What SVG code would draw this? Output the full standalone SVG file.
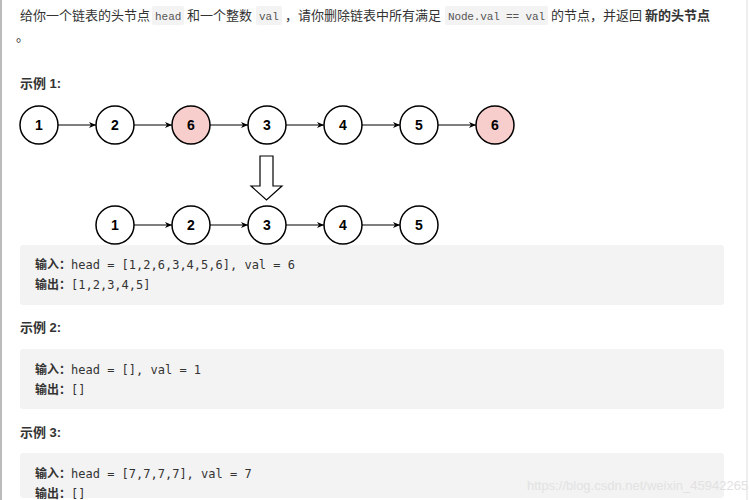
<svg xmlns="http://www.w3.org/2000/svg" width="749" height="500" viewBox="0 0 749 500">
<defs>
<style>
.t{font-family:"Liberation Sans","Noto Sans CJK SC",sans-serif;font-size:13px;fill:#333}
.b{font-weight:bold}
.m{font-family:"Liberation Mono","DejaVu Sans Mono",monospace;font-size:11px;fill:#555}
.c{font-family:"DejaVu Sans Mono","Noto Sans CJK SC",monospace;font-size:12px;fill:#333}
.cb{fill:#f3f3f3}
.n circle{fill:#fff;stroke:#000;stroke-width:1.5}
.n.r circle{fill:#f8cecc}
.n text{font-family:"Liberation Sans",sans-serif;font-size:14px;font-weight:bold;text-anchor:middle;fill:#000}
.e{stroke:#000;stroke-width:1.2;fill:none;marker-end:url(#a)}
</style>
<marker id="a" markerWidth="8" markerHeight="8" refX="7" refY="4" orient="auto" markerUnits="userSpaceOnUse"><path d="M0,1 L7,4 L0,7 L2,4 Z" fill="#000"/></marker>
</defs>
<rect width="749" height="500" fill="#fff"/>
<line x1="1" y1="0" x2="1" y2="500" stroke="#bbb" stroke-width="2"/>
<line x1="747" y1="0" x2="747" y2="500" stroke="#ddd" stroke-width="1"/>
<rect x="152" y="6" width="32" height="19" rx="2" class="cb"/>
<rect x="256" y="6" width="26" height="19" rx="2" class="cb"/>
<rect x="445" y="6" width="103" height="19" rx="2" class="cb"/>
<text class="t" x="20" y="20">给你一个链表的头节点</text>
<text class="m" x="155" y="20">head</text>
<text class="t" x="187" y="20">和一个整数</text>
<text class="m" x="259" y="20">val</text>
<text class="t" x="285" y="20">，请你删除链表中所有满足</text>
<text class="m" x="448" y="20" textLength="97">Node.val == val</text>
<text class="t" x="551" y="20">的节点，并返回</text>
<text class="t b" x="645" y="20">新的头节点</text>
<text class="t" x="16" y="41">。</text>
<text class="t b" x="20" y="88">示例 1:</text>
<g id="edges">
<line class="e" x1="58" y1="125" x2="96" y2="125"/>
<line class="e" x1="134" y1="125" x2="172" y2="125"/>
<line class="e" x1="210" y1="125" x2="248" y2="125"/>
<line class="e" x1="286" y1="125" x2="324" y2="125"/>
<line class="e" x1="362" y1="125" x2="400" y2="125"/>
<line class="e" x1="438" y1="125" x2="476" y2="125"/>
<line class="e" x1="134" y1="225" x2="172" y2="225"/>
<line class="e" x1="210" y1="225" x2="248" y2="225"/>
<line class="e" x1="286" y1="225" x2="324" y2="225"/>
<line class="e" x1="362" y1="225" x2="400" y2="225"/>
<path d="M260,156 H273 V186 H282 L266.5,200 L251,186 H260 Z" fill="#fff" stroke="#000" stroke-width="1.2"/>
</g>
<g id="n1" class="n"><circle cx="39" cy="125" r="19"/><text x="39" y="130">1</text></g>
<g id="n2" class="n"><circle cx="115" cy="125" r="19"/><text x="115" y="130">2</text></g>
<g id="n3" class="n r"><circle cx="191" cy="125" r="19"/><text x="191" y="130">6</text></g>
<g id="n4" class="n"><circle cx="267" cy="125" r="19"/><text x="267" y="130">3</text></g>
<g id="n5" class="n"><circle cx="343" cy="125" r="19"/><text x="343" y="130">4</text></g>
<g id="n6" class="n"><circle cx="419" cy="125" r="19"/><text x="419" y="130">5</text></g>
<g id="n7" class="n r"><circle cx="495" cy="125" r="19"/><text x="495" y="130">6</text></g>
<g id="m1" class="n"><circle cx="115" cy="225" r="19"/><text x="115" y="230">1</text></g>
<g id="m2" class="n"><circle cx="191" cy="225" r="19"/><text x="191" y="230">2</text></g>
<g id="m3" class="n"><circle cx="267" cy="225" r="19"/><text x="267" y="230">3</text></g>
<g id="m4" class="n"><circle cx="343" cy="225" r="19"/><text x="343" y="230">4</text></g>
<g id="m5" class="n"><circle cx="419" cy="225" r="19"/><text x="419" y="230">5</text></g>
<rect x="20" y="245" width="704" height="60" rx="3" class="cb"/>
<text class="c" x="35" y="269"><tspan font-weight="bold">输入：</tspan>head = [1,2,6,3,4,5,6], val = 6</text>
<text class="c" x="35" y="289"><tspan font-weight="bold">输出：</tspan>[1,2,3,4,5]</text>
<text class="t b" x="20" y="332">示例 2:</text>
<rect x="20" y="349" width="704" height="60" rx="3" class="cb"/>
<text class="c" x="35" y="374"><tspan font-weight="bold">输入：</tspan>head = [], val = 1</text>
<text class="c" x="35" y="394"><tspan font-weight="bold">输出：</tspan>[]</text>
<text class="t b" x="20" y="437">示例 3:</text>
<rect x="20" y="453" width="704" height="45" rx="3" class="cb"/>
<text class="c" x="35" y="478"><tspan font-weight="bold">输入：</tspan>head = [7,7,7,7], val = 7</text>
<text class="c" x="35" y="498"><tspan font-weight="bold">输出：</tspan>[]</text>
<text x="527" y="490" font-family="Liberation Sans,sans-serif" font-size="13" fill="#e2e2e2">https://blog.csdn.net/weixin_45942265</text>
</svg>
